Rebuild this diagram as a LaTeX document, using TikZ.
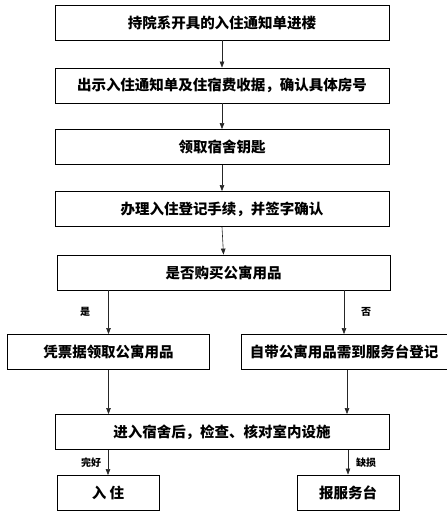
\documentclass[tikz,border=0pt]{standalone}
\usepackage{fontspec}
\usepackage{tikz}
\usetikzlibrary{arrows.meta}
\newfontfamily\cjk{Noto Sans CJK SC}
\newcommand{\stepBox}[4]{%%
  \node[boxStyle,minimum width=#3] (#1) at #2 {#4};
}
\newcommand{\flowArrow}[2]{%%
  \draw[arrowStyle] (#1.south) -- (#2.north);
}
\newcommand{\branchArrow}[2]{%%
  \draw[arrowStyle] (#2.north |- #1.south) -- (#2.north);
}

\begin{document}
\begin{tikzpicture}[%%
  x=1pt,y=-1pt,%%
  boxStyle/.style={draw,thick,rectangle,minimum height=35pt,inner sep=0pt,font=\cjk\bfseries\fontsize{14.5pt}{16pt}\selectfont},%%
  arrowStyle/.style={-{Triangle[length=6pt,width=4.5pt]},semithick,black!85},%%
  labelStyle/.style={font=\cjk\bfseries\fontsize{10pt}{12pt}\selectfont}%%
]
%%
\useasboundingbox (0,0) rectangle (447,520);
\pgfmathsetmacro{\wide}{334}
\pgfmathsetmacro{\half}{202}
\pgfmathsetmacro{\small}{102}
%% The main column.
\stepBox{letter}{(222,22.5)}{\wide pt}{持院系开具的入住通知单进楼}
\stepBox{receipt}{(222,85.5)}{\wide pt}{出示入住通知单及住宿费收据，确认具体房号}
\stepBox{key}{(222,147)}{\wide pt}{领取宿舍钥匙}
\stepBox{register}{(222,209)}{\wide pt}{办理入住登记手续，并签字确认}
\stepBox{buy}{(223.5,272.5)}{333pt}{是否购买公寓用品}
%% The two branches.
\stepBox{fetch}{(108.5,352)}{\half pt}{凭票据领取公寓用品}
\stepBox{own}{(344,352)}{206pt}{自带公寓用品需到服务台登记}
\stepBox{check}{(222,432)}{\wide pt}{进入宿舍后，检查、核对室内设施}
\stepBox{move}{(108,493)}{\small pt}{入\ 住}
\stepBox{report}{(348,492.5)}{\small pt}{报服务台}
%%
%% Connect the steps.
\flowArrow{letter}{receipt}
\flowArrow{receipt}{key}
\flowArrow{key}{register}
\flowArrow{register}{buy}
\branchArrow{buy}{fetch}
\branchArrow{buy}{own}
\draw[arrowStyle] (fetch.south) -- (fetch.south |- check.north);
\draw[arrowStyle] ([xshift=3pt]own.south) -- ([xshift=3pt]own.south |- check.north);
\branchArrow{check}{move}
\branchArrow{check}{report}
%% Label the branches.
\node[labelStyle] (yes) at (85,312) {是};
\node[labelStyle] (no) at (366,312) {否};
\node[labelStyle] (fine) at (91,463) {完好};
\node[labelStyle] (broken) at (366,463) {缺损};
\end{tikzpicture}
\end{document}
